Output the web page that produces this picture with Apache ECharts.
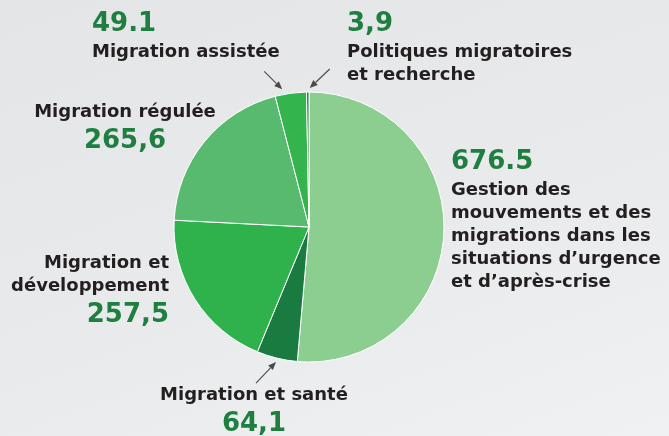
<!DOCTYPE html>
<html>
<head>
<meta charset="utf-8">
<script src="https://cdn.jsdelivr.net/npm/echarts@6/dist/echarts.min.js"></script>
<style>
  html, body { margin: 0; padding: 0; }
  body { background: linear-gradient(160deg, #e4e5e7 0%, #e9eaec 55%, #f0f1f3 100%); }
  #chart-container { width: 669px; height: 436px; }
</style>
</head>
<body>
<div id="chart-container"></div>
<script>
// data, clockwise from 12 o'clock
var categories = [
    'Gestion des\nmouvements et des\nmigrations dans les\nsituations d’urgence\net d’après-crise',
    'Migration et santé',
    'Migration et\ndéveloppement',
    'Migration régulée',
    'Migration assistée',
    'Politiques migratoires\net recherche'
];
var values = [676.5, 64.1, 257.5, 265.6, 49.1, 3.9];
var valueLabels = ['676.5', '64,1', '257,5', '265,6', '49.1', '3,9'];
// true = value written above the name
var valueFirst = [true, false, false, false, true, true];

var colors = ['#8ccd90', '#1a7b40', '#2fb14b', '#58ba6e', '#33b44c', '#1a7b40'];

// label placement (layout only)
var labelPos = [
    { x: 451, y: 145, align: 'left' },
    { x: 254, y: 384, align: 'center' },
    { x: 169, y: 252, align: 'right' },
    { x: 125, y: 101, align: 'center' },
    { x: 92, y: 7, align: 'left' },
    { x: 347, y: 7, align: 'left' }
];
// arrows for the thin slices: [dataIndex, tail dx, tail dy, tip shift x]
var arrows = [[4, -18, -18, -8], [5, 20, -19, 2], [1, -20, 21, 0]];

var cx = 309, cy = 227, radius = 135;
var font = '"DejaVu Sans", Verdana, sans-serif';

var dom = document.getElementById('chart-container');
var myChart = echarts.init(dom, null, { renderer: 'canvas' });

var total = values.reduce(function (a, b) { return a + b; }, 0);

function sliceTip(idx, extra) {
    var before = 0;
    for (var i = 0; i < idx; i++) before += values[i];
    var mid = (before + values[idx] / 2) / total * Math.PI * 2;
    return [cx + Math.sin(mid) * (radius + extra), cy - Math.cos(mid) * (radius + extra)];
}

var graphics = [];
arrows.forEach(function (a) {
    var tip = sliceTip(a[0], 4);
    tip[0] += a[3];
    var tail = [tip[0] + a[1], tip[1] + a[2]];
    var ang = Math.atan2(tip[1] - tail[1], tip[0] - tail[0]);
    var hl = 8, hw = 3.3;
    var bx = tip[0] - Math.cos(ang) * hl, by = tip[1] - Math.sin(ang) * hl;
    graphics.push({
        type: 'line',
        shape: { x1: tail[0], y1: tail[1], x2: bx, y2: by },
        style: { stroke: '#4a4a4a', lineWidth: 1.1 },
        silent: true
    });
    graphics.push({
        type: 'polygon',
        shape: {
            points: [
                tip,
                [bx + Math.sin(ang) * hw, by - Math.cos(ang) * hw],
                [bx - Math.sin(ang) * hw, by + Math.cos(ang) * hw]
            ]
        },
        style: { fill: '#4a4a4a' },
        silent: true
    });
});

var pieData = values.map(function (v, i) {
    return { value: v, name: categories[i], itemStyle: { color: colors[i] } };
});

var option = {
    backgroundColor: 'transparent',
    animation: false,
    graphic: graphics,
    series: [{
        type: 'pie',
        center: [cx, cy],
        radius: [0, radius],
        startAngle: 90,
        clockwise: true,
        silent: true,
        avoidLabelOverlap: false,
        itemStyle: { borderColor: '#ffffff', borderWidth: 1 },
        label: {
            show: true,
            position: 'outside',
            fontFamily: font,
            formatter: function (p) {
                var nameLines = categories[p.dataIndex].split('\n').map(function (l) {
                    return '{n|' + l + '}';
                }).join('\n');
                var val = '{v|' + valueLabels[p.dataIndex] + '}';
                return valueFirst[p.dataIndex] ? val + '\n' + nameLines : nameLines + '\n' + val;
            },
            rich: {
                v: { fontFamily: font, fontSize: 26, fontWeight: 'bold', color: '#1e7f41', lineHeight: 34 },
                n: { fontFamily: font, fontSize: 18, fontWeight: 'bold', color: '#231f20', lineHeight: 23 }
            }
        },
        labelLine: { show: false },
        labelLayout: function (params) {
            var p = labelPos[params.dataIndex];
            return { x: p.x, y: p.y, align: p.align, verticalAlign: 'top', hideOverlap: false };
        },
        data: pieData
    }]
};

myChart.setOption(option);
</script>
</body>
</html>
